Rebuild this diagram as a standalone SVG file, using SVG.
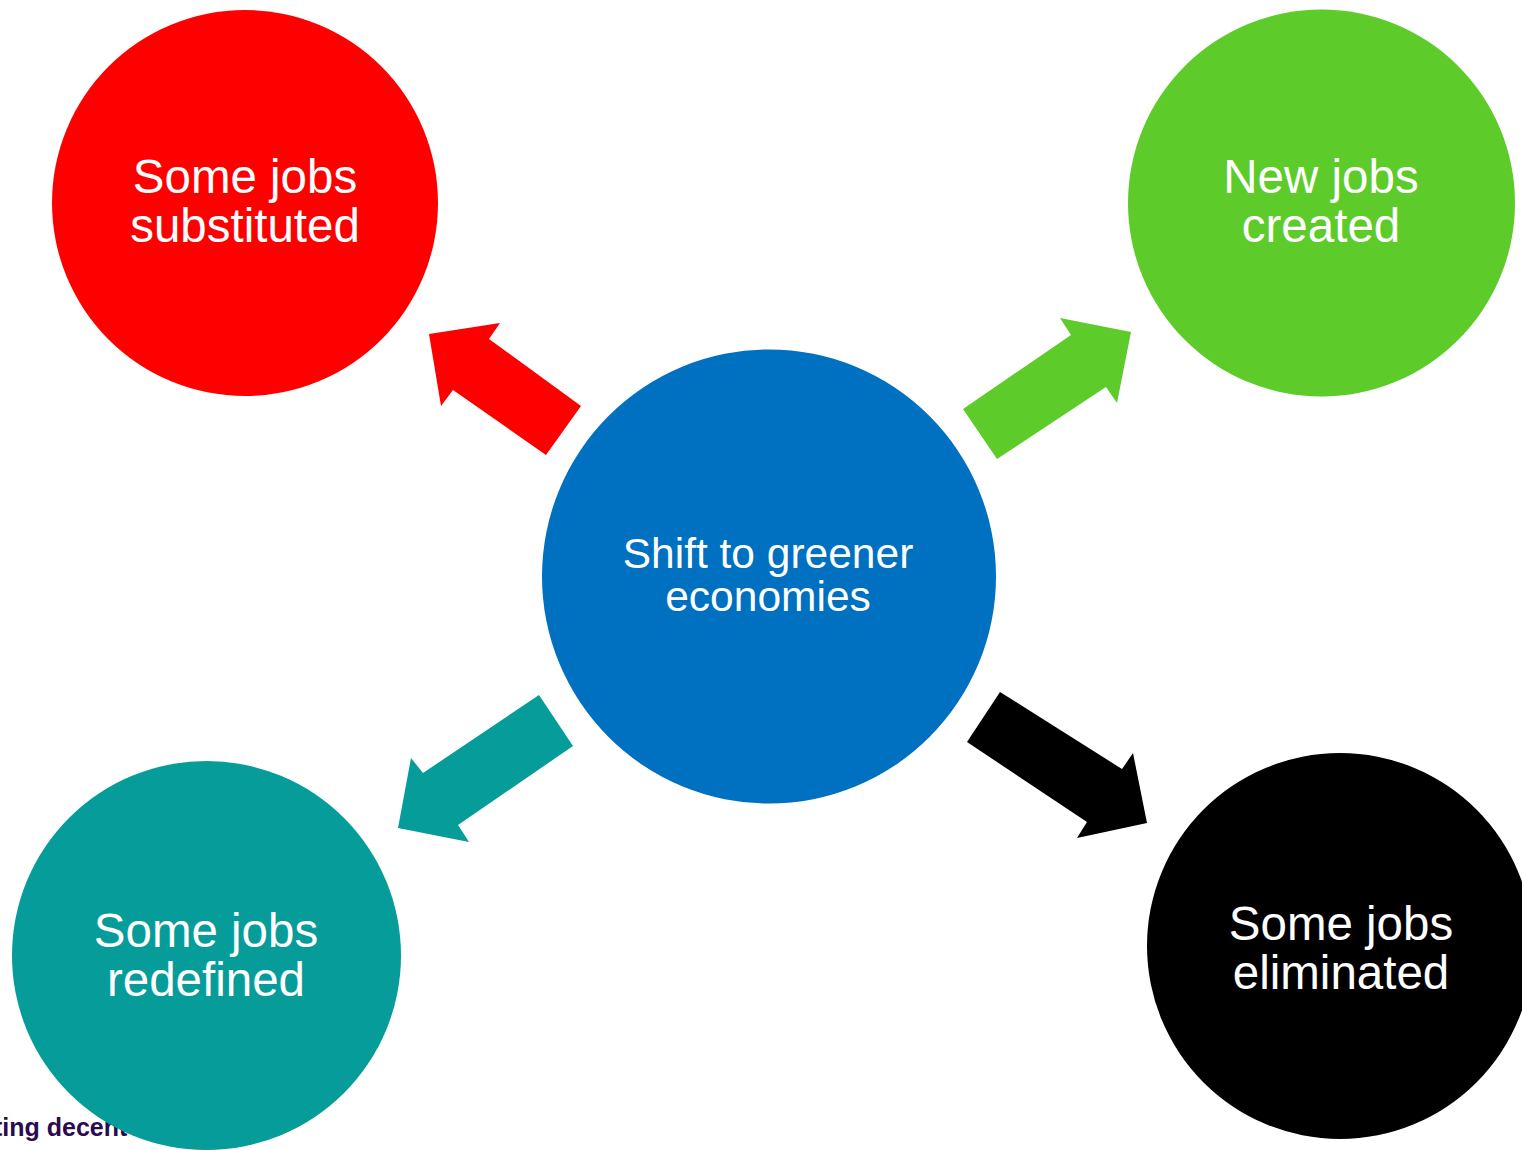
<svg xmlns="http://www.w3.org/2000/svg" width="1522" height="1150" viewBox="0 0 1522 1150">
<style>
.lbl{font-family:"Liberation Sans",Arial,sans-serif;fill:#fff;text-anchor:middle;font-size:47.5px}
.ctr{font-size:42.5px}
.foot{font-family:"Liberation Sans",Arial,sans-serif;font-weight:bold;font-size:25px;fill:#2b0b50}
</style>
<rect width="1522" height="1150" fill="#fff"/>
<text class="foot" x="-6" y="1136">ting decent</text>
<g id="connectors">
<polygon fill="#ff0000" points="429,334 500,323 489,339 581,406 546,455 453,390 441,406"/>
<polygon fill="#5dcb2a" points="1131,332 1060,318 1071,335 963,409 997,459 1106,387 1117,403"/>
<polygon fill="#069c9a" points="539,695 573,746 458,825 469,842 398,828 411,758 423,773"/>
<polygon fill="#000000" points="1000,692 967,742 1087,822 1077,838 1147,823 1133,753 1122,769"/>
</g>
<g id="center">
<circle cx="769" cy="576.5" r="227" fill="#0070c0"/>
<text class="lbl ctr" x="768" y="568">Shift to greener</text>
<text class="lbl ctr" x="768" y="611">economies</text>
</g>
<g id="substituted">
<circle cx="245" cy="203" r="193" fill="#ff0000"/>
<text class="lbl" x="245" y="193">Some jobs</text>
<text class="lbl" x="245" y="242">substituted</text>
</g>
<g id="created">
<circle cx="1321.5" cy="203" r="193.5" fill="#5dcb2a"/>
<text class="lbl" x="1321" y="193">New jobs</text>
<text class="lbl" x="1321" y="242">created</text>
</g>
<g id="redefined">
<circle cx="206.5" cy="955.5" r="194.5" fill="#069c9a"/>
<text class="lbl" x="206" y="947">Some jobs</text>
<text class="lbl" x="206" y="996">redefined</text>
</g>
<g id="eliminated">
<circle cx="1340" cy="946" r="193" fill="#000000"/>
<text class="lbl" x="1341" y="940">Some jobs</text>
<text class="lbl" x="1341" y="989">eliminated</text>
</g>
</svg>
